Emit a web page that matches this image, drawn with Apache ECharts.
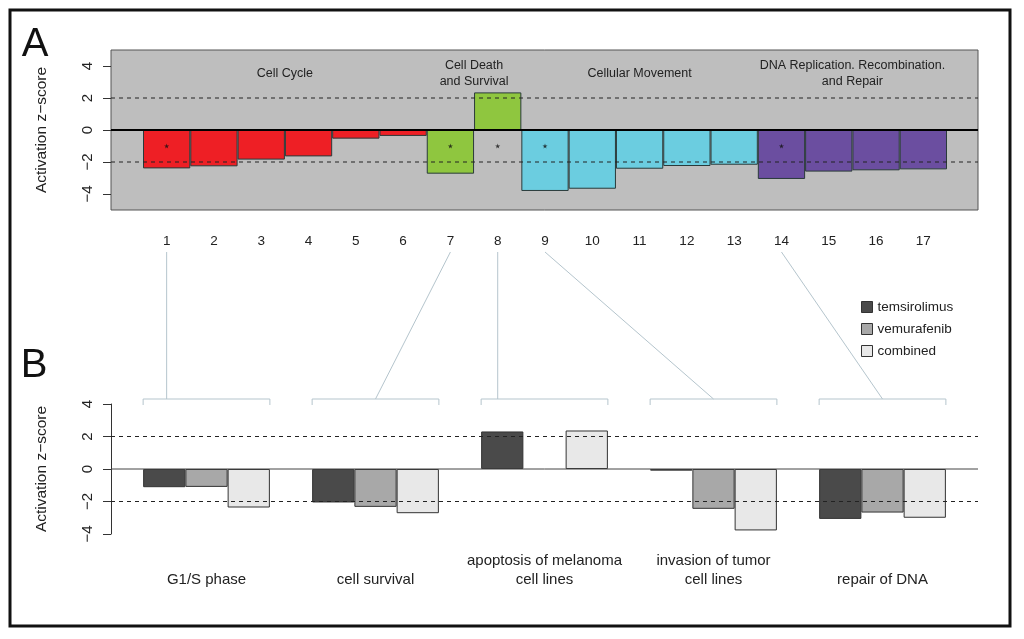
<!DOCTYPE html>
<html><head><meta charset="utf-8">
<script src="https://cdn.jsdelivr.net/npm/echarts@6/dist/echarts.min.js"></script>
<style>html,body{margin:0;padding:0;background:#fff}#c{width:1024px;height:639px}</style>
</head><body><div id="c"></div>
<script>
// ---- Panel A data ----
const barLabelsA = ['1','2','3','4','5','6','7','8','9','10','11','12','13','14','15','16','17'];
const zScoresA = [-2.4, -2.27, -1.85, -1.65, -0.54, -0.37, -2.73, 2.35, -3.81, -3.67, -2.42, -2.25, -2.17, -3.06, -2.6, -2.52, -2.46];
const barGroupA = [0,0,0,0,0,0,1,1,2,2,2,2,2,3,3,3,3];
const groupNamesA = ['Cell Cycle', 'Cell Death\nand Survival', 'Cellular Movement', 'DNA Replication. Recombination.\nand Repair'];
const groupColorsA = ['#EE1F25', '#8FC63F', '#6BCDE0', '#6B4EA0'];
const highlightedBars = [1, 7, 8, 9, 14];
const starLevel = -1;
// ---- Panel B data ----
const categoriesB = ['G1/S phase', 'cell survival', 'apoptosis of melanoma\ncell lines', 'invasion of tumor\ncell lines', 'repair of DNA'];
const temsirolimus = [-1.12, -2.06, 2.31, -0.1, -3.07];
const vemurafenib = [-1.1, -2.33, null, -2.45, -2.68];
const combined = [-2.37, -2.72, 2.37, -3.78, -3.0];
const seriesNamesB = ['temsirolimus', 'vemurafenib', 'combined'];
const seriesColorsB = ['#4A4A4A', '#A8A8A8', '#E8E8E8'];
// ---- shared ----
const yTicks = [-4, -2, 0, 2, 4];
const thresholds = [-2, 2];

const FONT = '"Liberation Sans", Arial, Helvetica, sans-serif';
const TXT = '#222';
const minus = v => String(v).replace('-', '\u2212');

const chart = echarts.init(document.getElementById('c'), null, {renderer: 'canvas'});

function refLine(xi, yi, y, style, z) {
  return {type: 'line', xAxisIndex: xi, yAxisIndex: yi, data: [[0, y], [1, y]], symbol: 'none',
    lineStyle: style, z: z, silent: true, animation: false};
}
function yAxisVisible(grid, min, max, extra) {
  return Object.assign({
    gridIndex: grid, type: 'value', min: min, max: max,
    axisTick: {show: true, length: 8, customValues: yTicks, lineStyle: {color: '#333', width: 1}},
    axisLabel: {customValues: yTicks, rotate: 90, margin: 16, fontSize: 15, color: TXT, fontFamily: FONT, formatter: minus},
    splitLine: {show: false},
    name: 'Activation z\u2212score', nameLocation: 'middle', nameGap: 61,
    nameTextStyle: {fontSize: 15.5, color: TXT, fontFamily: FONT}
  }, extra);
}

const dataB = [temsirolimus, vemurafenib, combined];

const option = {
  animation: false,
  backgroundColor: '#fff',
  textStyle: {fontFamily: FONT},
  grid: [
    {left: 111, right: 46, top: 50, bottom: 429, show: true, backgroundColor: '#BEBEBE', borderColor: '#555', borderWidth: 1},
    {left: 143, right: 77, top: 50, bottom: 429},
    {left: 111, right: 46, top: 404, bottom: 105},
    {left: 122, right: 57, top: 404, bottom: 105}
  ],
  xAxis: [
    {gridIndex: 0, type: 'value', min: 0, max: 1, show: false},
    {gridIndex: 1, type: 'category', data: barLabelsA, axisLine: {show: false}, axisTick: {show: false},
      axisLabel: {interval: 0, margin: 24, fontSize: 13.5, color: TXT, fontFamily: FONT}},
    {gridIndex: 2, type: 'value', min: 0, max: 1, show: false},
    {gridIndex: 3, type: 'category', data: categoriesB, axisLine: {show: false}, axisTick: {show: false},
      axisLabel: {interval: 0, hideOverlap: false, margin: 55, fontSize: 15, lineHeight: 19, verticalAlign: 'bottom', color: TXT, fontFamily: FONT}}
  ],
  yAxis: [
    yAxisVisible(0, -5, 5, {axisLine: {show: false}}),
    {gridIndex: 1, type: 'value', min: -5, max: 5, show: false},
    yAxisVisible(2, -4, 4, {axisLine: {show: true, lineStyle: {color: '#333', width: 1}}}),
    {gridIndex: 3, type: 'value', min: -4, max: 4, show: false}
  ],
  legend: {
    data: seriesNamesB, orient: 'vertical', left: 856, top: 295, itemWidth: 11, itemHeight: 11, itemGap: 8,
    icon: 'rect', textStyle: {fontSize: 13.5, color: TXT, fontFamily: FONT},
    itemStyle: {borderColor: '#333', borderWidth: 1}
  },
  series: [
    {type: 'bar', xAxisIndex: 1, yAxisIndex: 1, barCategoryGap: '0%', z: 2,
      data: zScoresA.map((v, i) => ({value: v, itemStyle: {color: groupColorsA[barGroupA[i]]}})),
      itemStyle: {borderColor: '#2a3a3a', borderWidth: 1}},
    {type: 'scatter', xAxisIndex: 1, yAxisIndex: 1, z: 4, silent: true,
      symbol: 'path://M50,0 L61,35 L98,35 L68,57 L79,91 L50,70 L21,91 L32,57 L2,35 L39,35 Z',
      symbolSize: 5, itemStyle: {color: '#111'},
      data: highlightedBars.map(b => [b - 1, starLevel])},
    ...thresholds.map(t => refLine(0, 0, t, {type: [4, 4], color: '#222', width: 1}, 5)),
    refLine(0, 0, 0, {color: '#000', width: 2}, 6),
    ...seriesNamesB.map((n, k) => ({
      name: n, type: 'bar', xAxisIndex: 3, yAxisIndex: 3, barGap: '0%', barCategoryGap: '25%', z: 2,
      data: dataB[k], itemStyle: {color: seriesColorsB[k], borderColor: '#333', borderWidth: 1}
    })),
    ...thresholds.map(t => refLine(2, 2, t, {type: [4, 4], color: '#222', width: 1}, 5)),
    refLine(2, 2, 0, {color: '#444', width: 1}, 6)
  ]
};
chart.setOption(option);

// annotations computed from the axes
const g = [];
const px1 = i => chart.convertToPixel({xAxisIndex: 1}, i);
const px3 = i => chart.convertToPixel({xAxisIndex: 3}, i);
groupNamesA.forEach((name, gi) => {
  const idx = barGroupA.map((v, i) => v === gi ? i : -1).filter(i => i >= 0);
  const cx = (px1(idx[0]) + px1(idx[idx.length - 1])) / 2;
  g.push({type: 'text', x: cx, y: 74, z: 50,
    style: {text: name, fontSize: 12.5, fontFamily: FONT, fill: TXT, align: 'center', verticalAlign: 'middle', lineHeight: 16}});
});
const band = px3(1) - px3(0);
const half = band * 0.75 / 2;
const conn = '#B5C5CD';
highlightedBars.forEach((b, j) => {
  const sx = px1(b - 1);
  const gc = px3(j);
  const ex = (sx >= gc - half && sx <= gc + half) ? sx : gc;
  g.push({type: 'line', z: 40, shape: {x1: sx, y1: 252, x2: ex, y2: 399}, style: {stroke: conn, lineWidth: 1}});
  g.push({type: 'polyline', z: 40, shape: {points: [[gc - half, 405], [gc - half, 399], [gc + half, 399], [gc + half, 405]]},
    style: {stroke: conn, lineWidth: 1, fill: null}});
});
g.push({type: 'text', x: 35, y: 45, z: 50, style: {text: 'A', fontSize: 40, fontFamily: FONT, fill: '#111', align: 'center', verticalAlign: 'middle'}});
g.push({type: 'text', x: 34, y: 366, z: 50, style: {text: 'B', fontSize: 40, fontFamily: FONT, fill: '#111', align: 'center', verticalAlign: 'middle'}});
g.push({type: 'rect', z: 60, shape: {x: 10, y: 10, width: 1000, height: 616}, style: {fill: null, stroke: '#111', lineWidth: 3}});
chart.setOption({graphic: g});
</script>
</body></html>
